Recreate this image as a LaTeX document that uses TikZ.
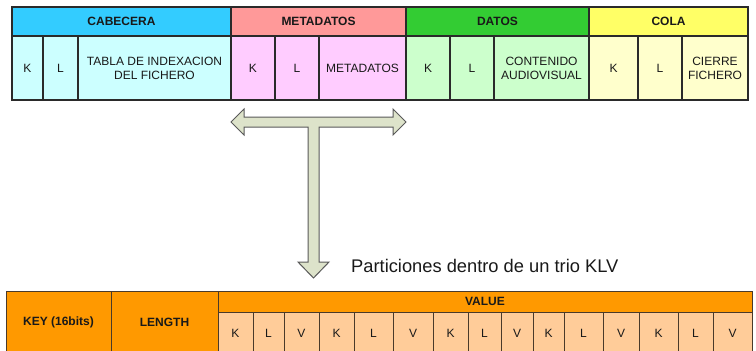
\documentclass[tikz,border=0pt]{standalone}
\usepackage{fontspec}
\setmainfont{Liberation Sans}
\definecolor{cabH}{HTML}{33CCFF}
\definecolor{cabL}{HTML}{CCFFFF}
\definecolor{metH}{HTML}{FF9999}
\definecolor{metL}{HTML}{FFCCFF}
\definecolor{datH}{HTML}{33CC33}
\definecolor{datL}{HTML}{CCFFCC}
\definecolor{colH}{HTML}{FFFF66}
\definecolor{colL}{HTML}{FFFFCC}
\definecolor{orgH}{HTML}{FF9900}
\definecolor{orgL}{HTML}{FFCC99}
\definecolor{arrF}{HTML}{DDE3CA}
\definecolor{bord}{HTML}{2A2A2A}
\definecolor{bordB}{HTML}{4A3A2A}
\newcommand\cellat[8]{\node[#1,fill=#7,minimum width={(#4)-(#2)},minimum height={(#5)-(#3)},anchor=north west] (#6) at (#2,#3) {#8};}
\begin{document}
\begin{tikzpicture}[x=1pt,y=-1pt,
  cell/.style={draw=bord, line width=1.2pt, inner sep=0pt, outer sep=0pt, align=center,
    font=\fontsize{12}{14}\selectfont, text=black!90},
  hdr/.style={cell, font=\fontsize{12}{14}\selectfont\bfseries},
  bcell/.style={cell, draw=bordB, line width=1pt},
  bhdr/.style={hdr, draw=bordB, line width=1pt},
  bigarrow/.style={draw=black!65, line width=1pt, fill=arrF, line join=miter}]
\useasboundingbox (0,0) rectangle (756,351);
% top table headers
\cellat{hdr}{12}{7}{231}{36}{hcab}{cabH}{CABECERA}
\cellat{hdr}{231}{7}{406}{36}{hmet}{metH}{METADATOS}
\cellat{hdr}{406}{7}{589}{36}{hdat}{datH}{DATOS}
\cellat{hdr}{589}{7}{748}{36}{hcol}{colH}{COLA}
% top table cells
\cellat{cell}{12}{36}{43}{100}{c1}{cabL}{K}
\cellat{cell}{43}{36}{78}{100}{c2}{cabL}{L}
\cellat{cell}{78}{36}{231}{100}{c3}{cabL}{TABLA DE INDEXACION\\DEL FICHERO}
\cellat{cell}{231}{36}{275}{100}{m1}{metL}{K}
\cellat{cell}{275}{36}{319}{100}{m2}{metL}{L}
\cellat{cell}{319}{36}{406}{100}{m3}{metL}{METADATOS}
\cellat{cell}{406}{36}{450}{100}{d1}{datL}{K}
\cellat{cell}{450}{36}{494}{100}{d2}{datL}{L}
\cellat{cell}{494}{36}{589}{100}{d3}{datL}{CONTENIDO\\AUDIOVISUAL}
\cellat{cell}{589}{36}{638}{100}{t1}{colL}{K}
\cellat{cell}{638}{36}{682}{100}{t2}{colL}{L}
\cellat{cell}{682}{36}{748}{100}{t3}{colL}{CIERRE\\FICHERO}
% T arrow
\draw[bigarrow] (231,122) -- (244,109) -- (244,117) -- (393,117) -- (393,109) -- (406,122)
  -- (393,135) -- (393,127) -- (319,127) -- (319,262) -- (329,262) -- (313.5,278)
  -- (298,262) -- (308,262) -- (308,127) -- (244,127) -- (244,135) -- cycle;
\node[anchor=base west, inner sep=0pt, font=\fontsize{18.3}{20}\selectfont, text=black!90] (cap) at (351,272) {Particiones dentro de un trio KLV};
% bottom table
\cellat{bhdr}{6}{291}{111}{353}{key}{orgH}{KEY (16bits)}
\cellat{bhdr}{111}{291}{218}{353}{len}{orgH}{LENGTH}
\cellat{bhdr}{218}{291}{752}{312}{val}{orgH}{VALUE}
\cellat{bcell}{218}{312}{253}{354}{v1}{orgL}{K}
\cellat{bcell}{253}{312}{284}{354}{v2}{orgL}{L}
\cellat{bcell}{284}{312}{319}{354}{v3}{orgL}{V}
\cellat{bcell}{319}{312}{354}{354}{v4}{orgL}{K}
\cellat{bcell}{354}{312}{393}{354}{v5}{orgL}{L}
\cellat{bcell}{393}{312}{433}{354}{v6}{orgL}{V}
\cellat{bcell}{433}{312}{468}{354}{v7}{orgL}{K}
\cellat{bcell}{468}{312}{501}{354}{v8}{orgL}{L}
\cellat{bcell}{501}{312}{533}{354}{v9}{orgL}{V}
\cellat{bcell}{533}{312}{564}{354}{v10}{orgL}{K}
\cellat{bcell}{564}{312}{603}{354}{v11}{orgL}{L}
\cellat{bcell}{603}{312}{639}{354}{v12}{orgL}{V}
\cellat{bcell}{639}{312}{678}{354}{v13}{orgL}{K}
\cellat{bcell}{678}{312}{713}{354}{v14}{orgL}{L}
\cellat{bcell}{713}{312}{752}{354}{v15}{orgL}{V}
\end{tikzpicture}
\end{document}
